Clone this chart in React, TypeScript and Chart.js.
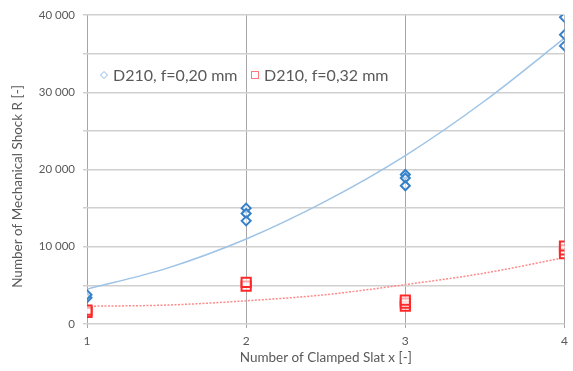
import React, { useEffect, useRef } from "react";
import { Chart, registerables } from "chart.js";

Chart.register(...registerables);

const X_TICKS = [1, 2, 3, 4];
const BLUE_X = [1, 1, 2, 2, 2, 3, 3, 3, 4, 4, 4];
const BLUE_Y = [3400, 3800, 15000, 14300, 13350, 19350, 18900, 17900, 39700, 37450, 36000];
const RED_X = [1, 1, 2, 2, 3, 3, 3, 4, 4, 4];
const RED_Y = [1500, 1800, 4900, 5400, 2300, 2700, 3100, 9100, 9600, 10100];
const TREND_X = [1, 1.5, 2, 2.5, 3, 3.5, 4];
const BLUE_TREND = [4500, 7200, 11000, 15900, 21800, 28900, 37000];
const RED_TREND = [2300, 2450, 3000, 3800, 5100, 6600, 8600];
const LABEL_BLUE = "D210, f=0,20 mm";
const LABEL_RED = "D210, f=0,32 mm";
const X_TITLE = "Number of Clamped Slat x [-]";
const Y_TITLE = "Number of Mechanical Shock R [-]";

const FONT = "Lato, 'Open Sans', sans-serif";
const TEXT = "#595959";

const legendPlugin = {
  id: "innerLegend",
  afterDraw(chart: any) {
    const { ctx, chartArea } = chart;
    const y = chartArea.top + 60;
    ctx.save();
    ctx.font = `16px ${FONT}`;
    ctx.textBaseline = "middle";
    ctx.fillStyle = TEXT;
    // blue diamond
    const bx = chartArea.left + 17;
    ctx.strokeStyle = "#8AB8E4";
    ctx.lineWidth = 1;
    ctx.beginPath();
    ctx.moveTo(bx, y - 3.5);
    ctx.lineTo(bx + 3.5, y);
    ctx.lineTo(bx, y + 3.5);
    ctx.lineTo(bx - 3.5, y);
    ctx.closePath();
    ctx.stroke();
    ctx.fillText(LABEL_BLUE, bx + 9, y + 1);
    // red square
    const rx = chartArea.left + 168;
    ctx.strokeStyle = "#FF7A7A";
    ctx.strokeRect(rx - 3.5, y - 3.5, 7, 7);
    ctx.fillText(LABEL_RED, rx + 9, y + 1);
    // y axis title
    ctx.font = `13.5px ${FONT}`;
    ctx.textAlign = "center";
    ctx.translate(18, (chartArea.top + chartArea.bottom) / 2 + 17);
    ctx.rotate(-Math.PI / 2);
    ctx.fillText(Y_TITLE, 0, 0);
    ctx.restore();
  },
};

export default function App() {
  const ref = useRef<HTMLCanvasElement | null>(null);
  useEffect(() => {
    document.body.style.margin = "0";
    document.body.style.overflow = "hidden";
    const canvas = ref.current!;
    const chart = new Chart(canvas, {
      type: "scatter",
      data: {
        datasets: [
          {
            type: "line",
            data: TREND_X.map((x, i) => ({ x, y: BLUE_TREND[i] })),
            borderColor: "#9DC3E6",
            borderWidth: 1.5,
            pointRadius: 0,
            cubicInterpolationMode: "monotone",
            fill: false,
            order: 3,
          } as any,
          {
            type: "line",
            data: TREND_X.map((x, i) => ({ x, y: RED_TREND[i] })),
            borderColor: "#FF8A8A",
            borderWidth: 1.5,
            borderDash: [2, 1.5],
            pointRadius: 0,
            cubicInterpolationMode: "monotone",
            fill: false,
            order: 4,
          } as any,
          {
            data: BLUE_X.map((x, i) => ({ x, y: BLUE_Y[i] })),
            pointStyle: "rectRot",
            pointRadius: 4.5,
            borderColor: "#3580C8",
            borderWidth: 2,
            backgroundColor: "rgba(255,255,255,0.6)",
            order: 1,
          },
          {
            data: RED_X.map((x, i) => ({ x, y: RED_Y[i] })),
            pointStyle: "rect",
            pointRadius: 6.5,
            borderColor: "#FF2828",
            borderWidth: 2,
            backgroundColor: "rgba(255,255,255,0.6)",
            order: 2,
          },
        ],
      },
      options: {
        animation: false,
        responsive: false,
        layout: { padding: { top: 15, right: 4, left: 0, bottom: 0 } },
        plugins: {
          legend: { display: false },
          tooltip: { enabled: false },
        },
        scales: {
          x: {
            type: "linear",
            min: 1,
            max: 4,
            afterBuildTicks: (s: any) => {
              s.ticks = X_TICKS.map((v) => ({ value: v }));
            },
            afterFit: (s: any) => {
              s.height = 47;
              s.paddingLeft = 0;
              s.paddingRight = 0;
            },
            grid: {
              color: "#A6A6A6",
              lineWidth: 1,
              tickLength: 4,
              tickColor: "#A6A6A6",
            },
            border: { display: false },
            ticks: {
              padding: 6,
              color: TEXT,
              font: { family: FONT, size: 12 },
              maxRotation: 0,
              callback: (v: any) => String(v),
            },
            title: {
              display: true,
              text: X_TITLE,
              color: TEXT,
              font: { family: FONT, size: 13.5 },
              padding: { top: 0, bottom: 5 },
            },
          },
          y: {
            min: 0,
            max: 40000,
            ticks: {
              stepSize: 5000,
              padding: 8,
              color: TEXT,
              font: { family: FONT, size: 11.5 },
              callback: (v: any) =>
                v % 10000 === 0
                  ? v === 0
                    ? "0"
                    : `${Math.floor(v / 1000)} ${String(v % 1000).padStart(3, "0")}`
                  : "",
            },
            afterFit: (s: any) => {
              s.width = 87;
              s.paddingTop = 0;
              s.paddingBottom = 0;
            },
            grid: {
              color: "#D0D0D0",
              lineWidth: 1.5,
              tickLength: 4,
              tickColor: "#D0D0D0",
            },
            border: { display: false },
            title: { display: false },
          },
        },
      },
      plugins: [legendPlugin],
    } as any);
    return () => chart.destroy();
  }, []);
  return <canvas ref={ref} width={573} height={371} style={{ display: "block" }} />;
}
